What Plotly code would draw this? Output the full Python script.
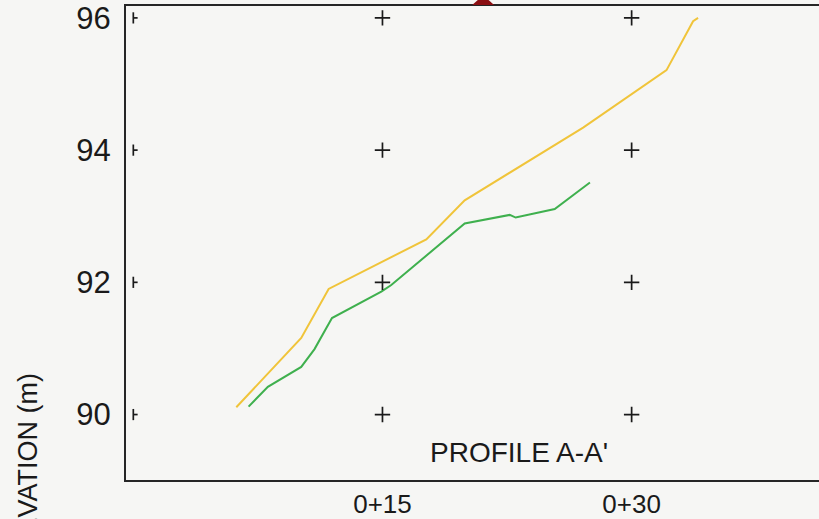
import plotly.graph_objects as go

# ---- data ----
station_yellow = [6.20, 10.11, 11.76, 17.64, 19.95, 27.08, 32.10, 33.70, 34.00]
elev_yellow    = [90.11, 91.16, 91.90, 92.65, 93.24, 94.34, 95.21, 95.95, 96.00]

station_green = [6.94, 8.10, 10.11, 10.91, 11.96, 14.93, 15.53, 19.95, 22.66, 23.02, 25.37, 27.49]
elev_green    = [90.12, 90.42, 90.72, 90.99, 91.46, 91.86, 91.96, 92.89, 93.02, 92.98, 93.11, 93.51]

grid_x = [15, 30]
grid_y = [90, 92, 94, 96]
edge_x = 0

x_tickvals = [15, 30]
x_ticktext = ["0+15", "0+30"]
y_tickvals = [90, 92, 94, 96]

FONT = "Liberation Sans, Arial, sans-serif"
INK = "#1a1a1a"
BG = "#f6f6f4"

fig = go.Figure()

fig.add_trace(go.Scatter(x=station_yellow, y=elev_yellow, mode="lines",
                         line=dict(color="#f0c43a", width=2), hoverinfo="skip"))
fig.add_trace(go.Scatter(x=station_green, y=elev_green, mode="lines",
                         line=dict(color="#3fb04e", width=2), hoverinfo="skip"))

# grid crosses
gx, gy = [], []
for xv in grid_x:
    for yv in grid_y:
        gx.append(xv)
        gy.append(yv)
fig.add_trace(go.Scatter(x=gx, y=gy, mode="markers",
                         marker=dict(symbol="cross-thin", size=11,
                                     line=dict(width=1.7, color=INK)),
                         hoverinfo="skip"))
# half crosses at the left edge
fig.add_trace(go.Scatter(x=[edge_x] * len(grid_y), y=grid_y, mode="markers",
                         marker=dict(symbol="line-ns", size=8,
                                     line=dict(width=1.7, color=INK)),
                         error_x=dict(type="data", array=[0.26] * len(grid_y),
                                      arrayminus=[0] * len(grid_y), symmetric=False,
                                      width=0, thickness=1.7, color=INK),
                         hoverinfo="skip"))

fig.update_layout(
    width=819, height=519,
    margin=dict(l=126, r=0, t=6, b=31),
    paper_bgcolor=BG, plot_bgcolor=BG,
    showlegend=False,
    font=dict(family=FONT, color=INK),
    xaxis=dict(range=[-0.44, 41.28], showgrid=False, zeroline=False,
               showline=True, linecolor="#262626", linewidth=2, mirror=True,
               ticks="", tickvals=x_tickvals, ticktext=x_ticktext,
               tickfont=dict(size=26, family=FONT, color=INK),
               ticklabelstandoff=0),
    yaxis=dict(range=[89.01, 96.18], showgrid=False, zeroline=False,
               showline=True, linecolor="#262626", linewidth=2, mirror=False,
               ticks="", tickvals=y_tickvals,
               tickfont=dict(size=31, family=FONT, color=INK),
               ticklabelstandoff=7),
    annotations=[
        dict(text="PROFILE A-A'", xref="x", yref="y", x=23.2, y=89.42,
             showarrow=False, font=dict(size=28, family=FONT, color=INK)),
        dict(text="ELEVATION (m)", xref="paper", yref="paper", x=-0.142, y=0.2303,
             xanchor="center", yanchor="top", textangle=-90, showarrow=False,
             font=dict(size=27, family=FONT, color=INK)),
    ],
    shapes=[
        dict(type="path", xref="paper", yref="paper", layer="above",
             path="M 0.4996 1.002 L 0.5312 1.002 L 0.5232 1.0124 L 0.5077 1.0124 Z",
             fillcolor="#8a0f12", line=dict(width=0)),
    ],
)

fig.write_html("out.html")
